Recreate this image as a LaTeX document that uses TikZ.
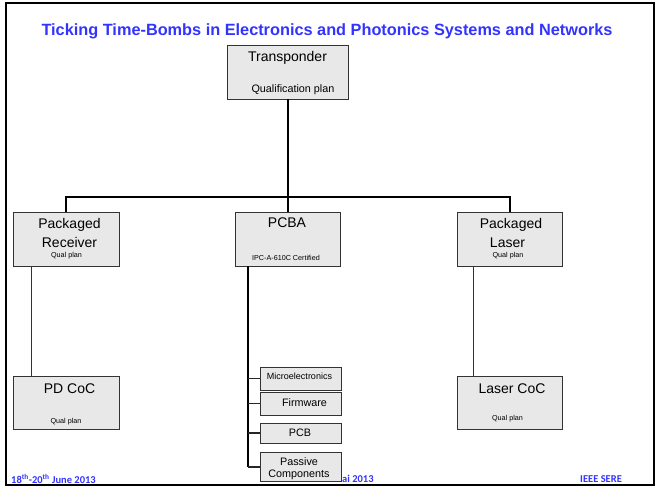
\documentclass[tikz,border=0pt]{standalone}
\usepackage{fontspec}
\setmainfont{Liberation Sans}
\newfontfamily\footfont{Carlito}
\definecolor{slideblue}{RGB}{51,51,255}
\definecolor{boxgray}{RGB}{232,232,232}
\newcommand{\sizept}[1]{\fontsize{#1}{#1}\selectfont}
\begin{document}
\begin{tikzpicture}[x=1pt,y=1pt]
\tikzstyle{every node}+=[inner sep=0pt]
\tikzstyle{unitbox}=[draw=black!80,fill=boxgray,line width=0.9pt]
\tikzstyle{bigtext}=[font=\sizept{14}]
\tikzstyle{midtext}=[font=\sizept{10.8}]
\tikzstyle{smalltext}=[font=\sizept{7.2}]
\tikzstyle{foot}=[font=\footfont\bfseries\sizept{10.5},text=slideblue,anchor=west]
\useasboundingbox (0,0) rectangle (668,-488);
\draw [black,line width=2pt] (6,-3) rectangle (654,-485);
\node [font=\bfseries\sizept{16.3},text=slideblue] (title) at (327,-31) {Ticking Time-Bombs in Electronics and Photonics Systems and Networks};
\node [foot] (date) at (11,-479) {18\textsuperscript{th}-20\textsuperscript{th} June 2013};
\node [foot] (place) at (342,-479) {ai 2013};
\node [foot] (conf) at (580,-479) {IEEE SERE};
\node [unitbox,minimum width=121pt,minimum height=54pt] (trans) at (287.5,-72) {};
\node [unitbox,minimum width=106pt,minimum height=54pt] (recv) at (66,-239) {};
\node [unitbox,minimum width=105pt,minimum height=54pt] (pcba) at (287.5,-239) {};
\node [unitbox,minimum width=105pt,minimum height=54pt] (laser) at (510,-239) {};
\node [unitbox,minimum width=106pt,minimum height=53pt] (pd) at (66,-402.5) {};
\node [unitbox,minimum width=105pt,minimum height=53pt] (lcoc) at (510,-402.5) {};
\node [unitbox,minimum width=81pt,minimum height=23pt] (micro) at (300.5,-378.5) {};
\node [unitbox,minimum width=81pt,minimum height=23pt] (firm) at (300.5,-403.5) {};
\node [unitbox,minimum width=81pt,minimum height=20pt] (pcb) at (300.5,-433) {};
\node [unitbox,minimum width=81pt,minimum height=29pt] (passive) at (300.5,-466.5) {};
\coordinate (bus) at (287.5,-197);
\coordinate (trunk) at ([xshift=13pt]pcba.south west);
\draw [black,line width=2pt] (trans.south) -- (pcba.north);
\draw [black,line width=2pt] (recv.north) |- (bus) -| (laser.north);
\draw [black!80,line width=1pt] ([xshift=19pt]recv.south west) -- ([xshift=19pt]pd.north west);
\draw [black!80,line width=1pt] ([xshift=16.5pt]laser.south west) -- ([xshift=16.5pt]lcoc.north west);
\draw [black,line width=2pt] (trunk) -- (trunk |- passive.west);
\draw [black!85,line width=1.3pt] (trunk |- micro.west) -- (micro.west);
\draw [black!85,line width=1.3pt] (trunk |- firm.west) -- (firm.west);
\draw [black!85,line width=1.3pt] (trunk |- pcb.west) -- (pcb.west);
\draw [black!85,line width=1.3pt] ([yshift=-0.5pt]trunk |- passive.west) -- ([yshift=-0.5pt]passive.west);
\node [bigtext] (transname) at (287.5,-58) {Transponder};
\node [midtext] (transplan) at (293,-90) {Qualification plan};
\node [bigtext] (recvname) at (69.5,-225) {Packaged};
\node [bigtext] (recvname2) at (69.5,-242) {Receiver};
\node [smalltext] (recvplan) at (66.5,-256) {Qual plan};
\node [bigtext] (pcbaname) at (287,-223) {PCBA};
\node [smalltext] (pcbacert) at (286,-258) {IPC-A-610C Certified};
\node [bigtext] (lasername) at (511,-225) {Packaged};
\node [bigtext] (lasername2) at (507.5,-243) {Laser};
\node [smalltext] (laserplan) at (508,-256) {Qual plan};
\node [bigtext] (pdname) at (69.5,-389) {PD CoC};
\node [smalltext] (pdplan) at (66,-422) {Qual plan};
\node [bigtext] (lcocname) at (512,-389) {Laser CoC};
\node [smalltext] (lcocplan) at (507.5,-419) {Qual plan};
\node [font=\sizept{9}] (microname) at (299.5,-376) {Microelectronics};
\node [midtext] (firmname) at (304.5,-403) {Firmware};
\node [midtext] (pcbname) at (300,-433) {PCB};
\node [midtext] (passname) at (299,-462) {Passive};
\node [midtext] (passname2) at (299,-475) {Components};
\end{tikzpicture}
\end{document}
